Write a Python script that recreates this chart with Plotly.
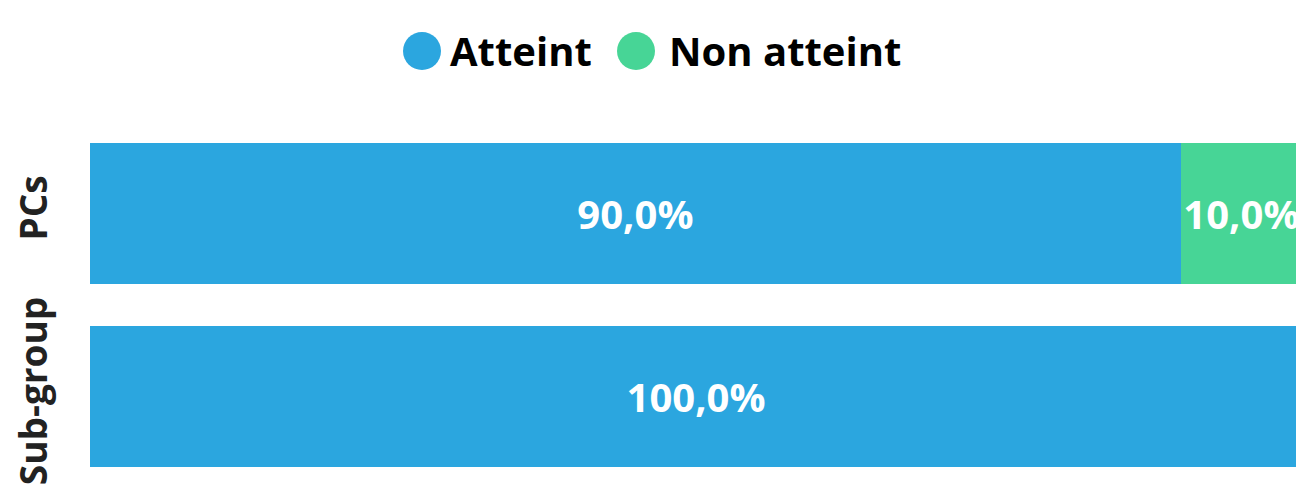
import plotly.graph_objects as go

categories = ["PCs", "Sub-group"]
atteint = [90.0, 100.0]
non_atteint = [10.0, 0.0]
series_names = ["Atteint", "Non atteint"]
colors = ["#2BA6DF", "#47D596"]

# page body has an 8px margin, so the figure is sized to fit the window
OFF = 8
W, H = 1304 - OFF, 491 - OFF
L, R, T, B = 82, 2, 114, 3
pw, ph = W - L - R, H - T - B


def fmt(v):
    return (f"{v:.1f}".replace(".", ",") + "%") if v > 0 else ""


FONT = "Open Sans"
fig = go.Figure()
for name, vals, col in zip(series_names, [atteint, non_atteint], colors):
    fig.add_trace(go.Bar(
        y=categories, x=vals, name=name, orientation="h",
        marker=dict(color=col, line=dict(width=0)),
        text=[fmt(v) for v in vals], textposition="inside",
        insidetextanchor="middle", textangle=0, constraintext="none",
        textfont=dict(family=FONT, size=40, color="white", weight="bold"),
        showlegend=False, hoverinfo="skip",
    ))


def px_to_paper(xp, yp):
    # xp, yp are window pixel positions
    xp -= OFF
    yp -= OFF
    return (xp - L) / pw, (H - B - yp) / ph


# legend drawn as circles + labels
legend_items = [(422, 51, 448), (636, 51, 667)]
for (cx, cy, tx), name, col in zip(legend_items, series_names, colors):
    px, py = px_to_paper(cx, cy)
    fig.add_shape(type="circle", xref="paper", yref="paper",
                  xsizemode="pixel", ysizemode="pixel",
                  xanchor=px, yanchor=py, x0=-19, x1=19, y0=-19, y1=19,
                  fillcolor=col, line=dict(width=0))
    ax, ay = px_to_paper(tx, cy)
    fig.add_annotation(x=ax, y=ay, xref="paper", yref="paper",
                       text=f"<b>{name}</b>", showarrow=False,
                       xanchor="left", yanchor="middle",
                       font=dict(family=FONT, size=40, color="#000000"))

fig.update_layout(
    width=W, height=H, barmode="stack", bargap=0.23,
    margin=dict(l=L, r=R, t=T, b=B, autoexpand=False),
    paper_bgcolor="white", plot_bgcolor="white",
    xaxis=dict(range=[0, 100], visible=False, automargin=False),
    yaxis=dict(autorange="reversed", showgrid=False, zeroline=False,
               showline=False, ticks="", tickangle=-90, automargin=False,
               ticklabelstandoff=35,
               tickfont=dict(family=FONT, size=37, color="#222222", weight="bold")),
    showlegend=False,
)

fig.write_html("out.html")
